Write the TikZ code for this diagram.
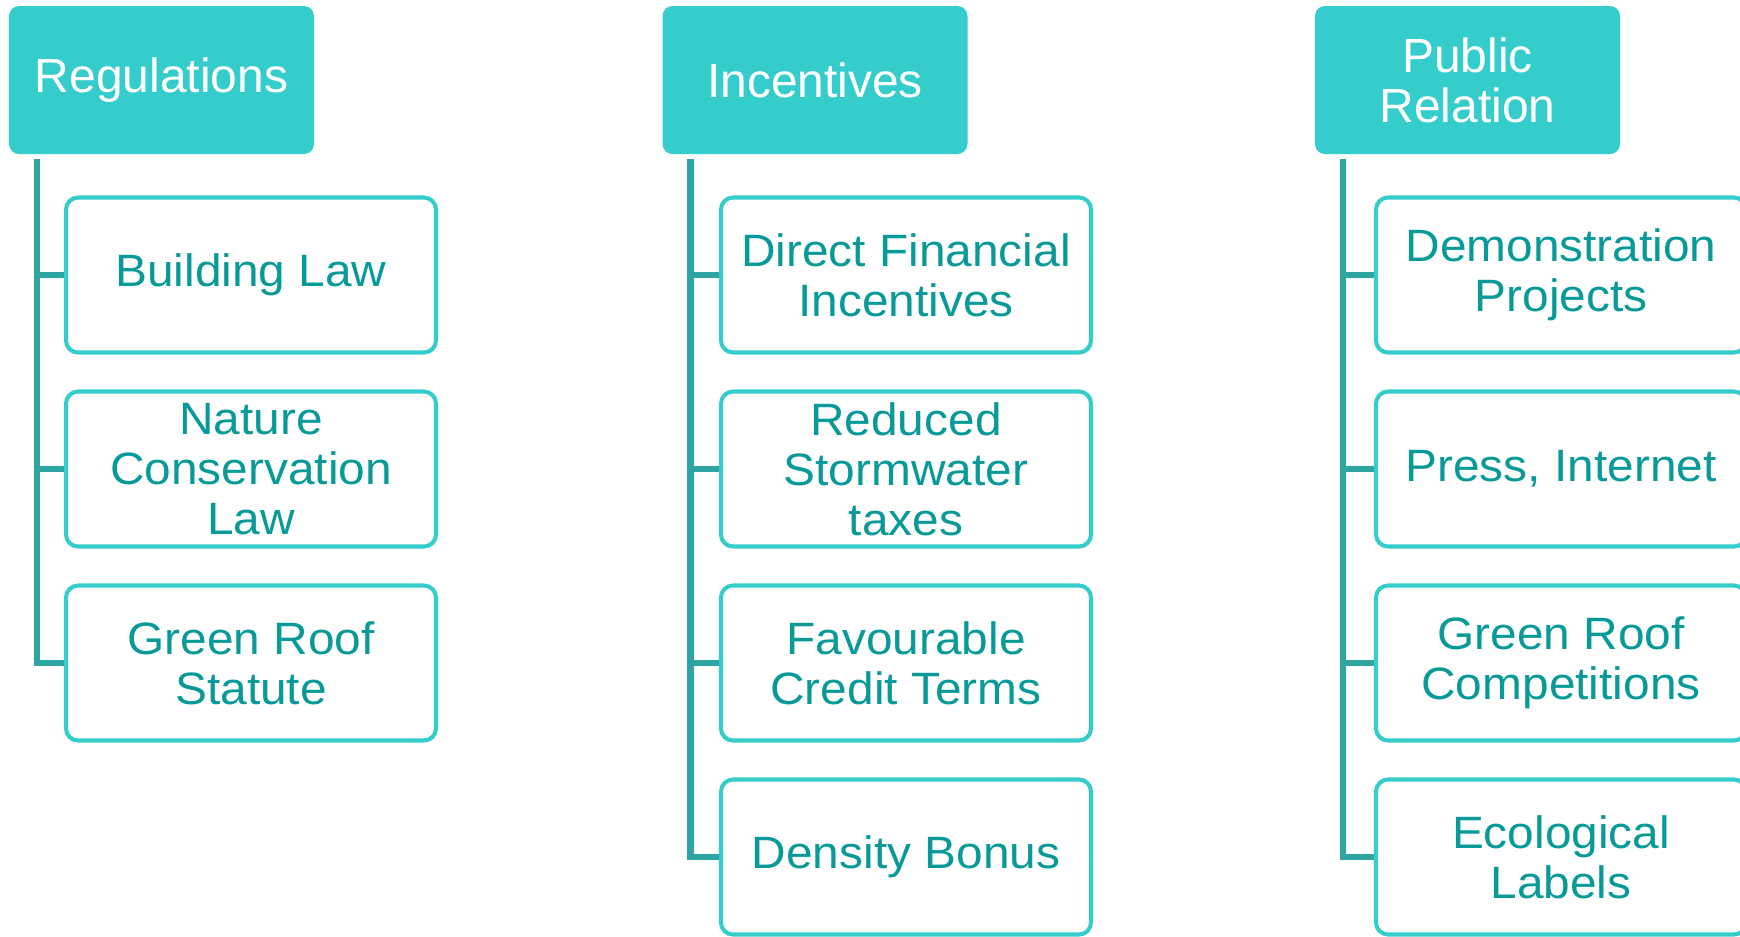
\documentclass[tikz,border=0pt]{standalone}
\usepackage{fontspec}
\setmainfont{Liberation Sans}
\newfontfamily\itemfont[FakeStretch=1.055]{Liberation Sans}
\usepackage{xcolor}
\usepackage{tikz}
\usetikzlibrary{calc}
\usetikzlibrary{positioning}

\definecolor{turq}{HTML}{35CCCC}
\definecolor{darkturq}{HTML}{089A98}
\definecolor{stem}{HTML}{2CA5A3}

\begin{document}
\begin{tikzpicture}[-,node distance=3.88cm, semithick]
	\tikzstyle{head}=[rectangle, rounded corners=0.2cm, fill=turq, draw=none,
		minimum width=6.1cm, minimum height=2.96cm, align=center, text=white,
		font=\fontsize{27.3}{28.5}\selectfont]
	\tikzstyle{item}=[rectangle, rounded corners=0.24cm, fill=white, draw=turq,
		line width=2.3pt, minimum width=7.4cm, minimum height=3.1cm,
		align=center, text=darkturq, font=\itemfont\fontsize{25.8}{28.5}\selectfont]
	\tikzstyle{tree}=[stem, line width=3.8pt]
	\useasboundingbox (0,0) rectangle (34.8,-18.72);

	% column headers
	\node[head] (r) at (3.23,-1.6) {Regulations};
	\node[head] (i) at (16.3,-1.6) {Incentives};
	\node[head] (p) at (29.35,-1.6) {Public\\Relation};

	% regulations
	\node[item] (r1) at (5.02,-5.5) {Building Law};
	\node[item] (r2) [below of=r1] {Nature\\Conservation\\Law};
	\node[item] (r3) [below of=r2] {Green Roof\\Statute};

	% incentives
	\node[item] (i1) at (18.12,-5.5) {Direct Financial\\Incentives};
	\node[item] (i2) [below of=i1] {Reduced\\Stormwater\\taxes};
	\node[item] (i3) [below of=i2] {Favourable\\Credit Terms};
	\node[item] (i4) [below of=i3] {Density Bonus};

	% public relation
	\node[item] (p1) at (31.22,-5.5) {Demonstration\\Projects};
	\node[item] (p2) [below of=p1] {Press, Internet};
	\node[item] (p3) [below of=p2] {Green Roof\\Competitions};
	\node[item] (p4) [below of=p3] {Ecological\\Labels};

	% stems and branches
	\foreach \c/\n in {r/3,i/4,p/4}{
		\coordinate (\c top) at ($(\c.south west)+(0.57,-0.08)$);
		\draw[tree] (\c top) |- (\c\n.west);
		\foreach \j in {1,...,\n}{
			\draw[tree] (\c top |- \c\j.west) -- (\c\j.west);
			}
		}
\end{tikzpicture}
\end{document}
